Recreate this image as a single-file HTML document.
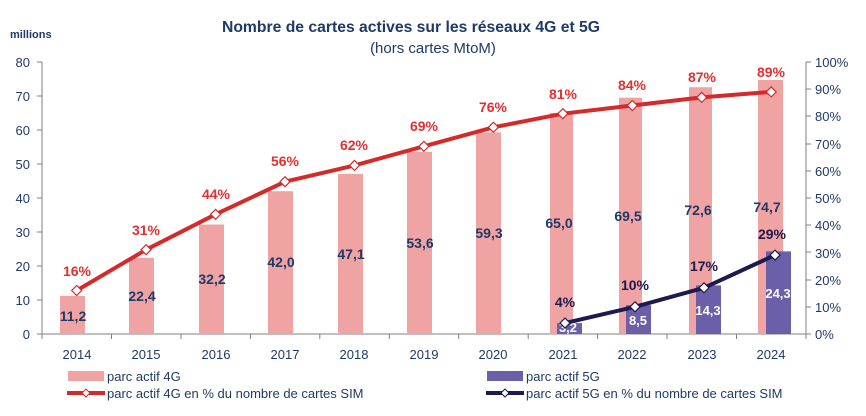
<!DOCTYPE html>
<html><head><meta charset="utf-8"><style>
body{margin:0;background:#fff;}
svg text{font-family:"Liberation Sans Narrow","Liberation Sans",sans-serif;}
</style></head><body>
<svg width="866" height="411" xmlns="http://www.w3.org/2000/svg">
<text x="222" y="32" font-size="16" font-weight="bold" fill="#1f3a68" textLength="378" lengthAdjust="spacingAndGlyphs">Nombre de cartes actives sur les réseaux 4G et 5G</text>
<text x="433" y="53" text-anchor="middle" font-size="15" fill="#1f3a68">(hors cartes MtoM)</text>
<text x="10" y="38" font-size="11" font-weight="bold" fill="#1f3a68">millions</text>
<g font-size="13" fill="#1f3a68">
<g text-anchor="end">
<text x="30" y="67">80</text><text x="30" y="101">70</text><text x="30" y="135">60</text><text x="30" y="169">50</text><text x="30" y="203">40</text><text x="30" y="237">30</text><text x="30" y="271">20</text><text x="30" y="305">10</text><text x="30" y="339">0</text>
</g>
<g text-anchor="start">
<text x="815" y="67">100%</text><text x="815" y="94">90%</text><text x="815" y="121">80%</text><text x="815" y="149">70%</text><text x="815" y="176">60%</text><text x="815" y="203">50%</text><text x="815" y="230">40%</text><text x="815" y="258">30%</text><text x="815" y="285">20%</text><text x="815" y="312">10%</text><text x="815" y="339">0%</text>
</g>
<g text-anchor="middle">
<text x="77" y="359">2014</text><text x="146" y="359">2015</text><text x="216" y="359">2016</text><text x="285" y="359">2017</text><text x="354" y="359">2018</text><text x="424" y="359">2019</text><text x="493" y="359">2020</text><text x="563" y="359">2021</text><text x="632" y="359">2022</text><text x="702" y="359">2023</text><text x="771" y="359">2024</text>
</g>
</g>
<g stroke="#808080" stroke-width="1" fill="none">
<line x1="42" y1="62" x2="42" y2="334"/>
<line x1="37" y1="62" x2="42" y2="62"/><line x1="37" y1="96" x2="42" y2="96"/><line x1="37" y1="130" x2="42" y2="130"/><line x1="37" y1="164" x2="42" y2="164"/><line x1="37" y1="198" x2="42" y2="198"/><line x1="37" y1="232" x2="42" y2="232"/><line x1="37" y1="266" x2="42" y2="266"/><line x1="37" y1="300" x2="42" y2="300"/><line x1="37" y1="334" x2="42" y2="334"/>
<line x1="806" y1="62" x2="806" y2="334"/>
<line x1="806" y1="62" x2="811" y2="62"/><line x1="806" y1="89" x2="811" y2="89"/><line x1="806" y1="116" x2="811" y2="116"/><line x1="806" y1="144" x2="811" y2="144"/><line x1="806" y1="171" x2="811" y2="171"/><line x1="806" y1="198" x2="811" y2="198"/><line x1="806" y1="225" x2="811" y2="225"/><line x1="806" y1="252" x2="811" y2="252"/><line x1="806" y1="280" x2="811" y2="280"/><line x1="806" y1="307" x2="811" y2="307"/><line x1="806" y1="334" x2="811" y2="334"/>
<line x1="42" y1="334" x2="806" y2="334"/>
<line x1="42" y1="334" x2="42" y2="339"/><line x1="111.5" y1="334" x2="111.5" y2="339"/><line x1="181" y1="334" x2="181" y2="339"/><line x1="250.4" y1="334" x2="250.4" y2="339"/><line x1="319.8" y1="334" x2="319.8" y2="339"/><line x1="389.3" y1="334" x2="389.3" y2="339"/><line x1="458.7" y1="334" x2="458.7" y2="339"/><line x1="528.2" y1="334" x2="528.2" y2="339"/><line x1="597.6" y1="334" x2="597.6" y2="339"/><line x1="667" y1="334" x2="667" y2="339"/><line x1="736.5" y1="334" x2="736.5" y2="339"/><line x1="806" y1="334" x2="806" y2="339"/>
</g>
<g fill="#f0a3a3">
<rect x="60" y="295.9" width="25" height="38.1"/>
<rect x="129" y="257.8" width="25" height="76.2"/>
<rect x="199" y="224.5" width="25" height="109.5"/>
<rect x="268" y="191.2" width="25" height="142.8"/>
<rect x="338" y="173.9" width="25" height="160.1"/>
<rect x="407" y="151.8" width="25" height="182.2"/>
<rect x="476" y="132.4" width="25" height="201.6"/>
<rect x="550" y="113" width="23" height="221"/>
<rect x="619" y="97.7" width="23" height="236.3"/>
<rect x="689" y="87.2" width="23" height="246.8"/>
<rect x="758" y="80" width="25" height="254"/>
</g>
<g fill="#6a5fa8">
<rect x="557" y="323.1" width="25" height="10.9"/>
<rect x="626" y="305.1" width="25" height="28.9"/>
<rect x="696" y="285.4" width="25" height="48.6"/>
<rect x="766" y="251.4" width="25" height="82.6"/>
</g>
<g font-size="14" font-weight="bold" fill="#1f3a68" text-anchor="middle">
<text x="73" y="321">11,2</text><text x="142" y="301">22,4</text><text x="212" y="284">32,2</text><text x="281" y="267">42,0</text><text x="351" y="259">47,1</text><text x="420" y="248">53,6</text><text x="489" y="238">59,3</text><text x="559" y="228">65,0</text><text x="628" y="221">69,5</text><text x="698" y="215">72,6</text><text x="767" y="212">74,7</text>
</g>
<polyline fill="none" stroke="#d42a2a" stroke-width="4" stroke-linejoin="round" points="76.7,290.5 146.1,249.7 215.6,214.3 285,181.7 354.5,165.4 423.9,146.3 493.4,127.3 562.8,113.7 632.3,105.5 701.7,97.4 771.2,91.9"/>
<g fill="#fff" stroke="#d42a2a" stroke-width="1.2">
<path d="M76.7 285.5l5 5-5 5-5-5z"/><path d="M146.1 244.7l5 5-5 5-5-5z"/><path d="M215.6 209.3l5 5-5 5-5-5z"/><path d="M285 176.7l5 5-5 5-5-5z"/><path d="M354.5 160.4l5 5-5 5-5-5z"/><path d="M423.9 141.3l5 5-5 5-5-5z"/><path d="M493.4 122.3l5 5-5 5-5-5z"/><path d="M562.8 108.7l5 5-5 5-5-5z"/><path d="M632.3 100.5l5 5-5 5-5-5z"/><path d="M701.7 92.4l5 5-5 5-5-5z"/><path d="M771.2 86.9l5 5-5 5-5-5z"/>
</g>
<g font-size="14" font-weight="bold" fill="#e03030" text-anchor="middle">
<text x="77" y="276">16%</text><text x="146" y="235">31%</text><text x="216" y="199">44%</text><text x="285" y="166">56%</text><text x="354" y="150">62%</text><text x="424" y="131">69%</text><text x="493" y="112">76%</text><text x="563" y="99">81%</text><text x="632" y="90">84%</text><text x="702" y="82">87%</text><text x="771" y="77">89%</text>
</g>
<g font-size="13" font-weight="bold" fill="#fff" text-anchor="middle">
<text x="568" y="332">3,2</text><text x="638" y="325">8,5</text><text x="708" y="315">14,3</text><text x="778" y="298">24,3</text>
</g>
<polyline fill="none" stroke="#1c1a4e" stroke-width="4" stroke-linejoin="round" points="565,323.1 635,306.8 704,287.8 775,255.1"/>
<g fill="#fff" stroke="#1c1a4e" stroke-width="1.2">
<path d="M565 318.1l5 5-5 5-5-5z"/><path d="M635 301.8l5 5-5 5-5-5z"/><path d="M704 282.8l5 5-5 5-5-5z"/><path d="M775 250.1l5 5-5 5-5-5z"/>
</g>
<g font-size="14" font-weight="bold" fill="#1c1a4e" text-anchor="middle">
<text x="565" y="307">4%</text><text x="635" y="290">10%</text><text x="704" y="271">17%</text><text x="772" y="239">29%</text>
</g>
<g font-size="13" fill="#1f3a68">
<rect x="68" y="371" width="36" height="10" fill="#f0a3a3"/>
<text x="107" y="381">parc actif 4G</text>
<line x1="67" y1="393" x2="105" y2="393" stroke="#d42a2a" stroke-width="4"/>
<path d="M86 389l4 4-4 4-4-4z" fill="#fff" stroke="#d42a2a"/>
<text x="107" y="398">parc actif 4G en % du nombre de cartes SIM</text>
<rect x="487" y="371" width="36" height="10" fill="#6a5fa8"/>
<text x="526" y="381">parc actif 5G</text>
<line x1="486" y1="393" x2="524" y2="393" stroke="#1c1a4e" stroke-width="4"/>
<path d="M505 389l4 4-4 4-4-4z" fill="#fff" stroke="#1c1a4e"/>
<text x="526" y="398">parc actif 5G en % du nombre de cartes SIM</text>
</g>
</svg>
</body></html>
